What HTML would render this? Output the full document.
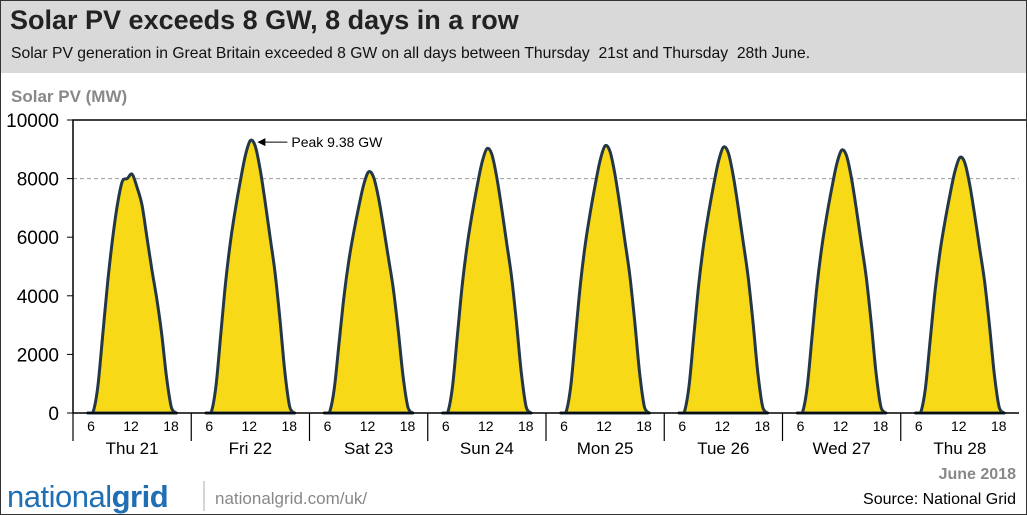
<!DOCTYPE html>
<html><head><meta charset="utf-8">
<style>
body{margin:0;background:#fff;font-family:"Liberation Sans",Arial,sans-serif;}
#wrap{position:relative;width:1025px;height:513px;border:1px solid #333;overflow:hidden;background:#fff;}
#hdr{position:absolute;left:0;top:0;width:1025px;height:72px;background:#d9d9d9;}
#title{position:absolute;left:9px;top:4px;font-size:27px;font-weight:bold;color:#222;}
#sub{position:absolute;left:10px;top:44px;font-size:15.7px;color:#111;}
svg{position:absolute;left:0;top:0;}
</style></head><body>
<div id="wrap">
<div id="hdr">
<div id="title">Solar PV exceeds 8 GW, 8 days in a row</div>
<div id="sub">Solar PV generation in Great Britain exceeded 8 GW on all days between Thursday &nbsp;21st and Thursday &nbsp;28th June.</div>
</div>
<svg id="chart" width="1027" height="515"></svg>
</div>
<script>
const days=["Thu 21","Fri 22","Sat 23","Sun 24","Mon 25","Tue 26","Wed 27","Thu 28"];
const hours=[3,4,5,6,7,8,9,10,11,12,13,14,15,16,17,18,19,20,21];
const d21=[0,0,850,2600,4400,5900,7100,7900,8000,8150,7700,7100,6000,4900,3900,2700,1200,170,0];
const d22=[0,0,900,2700,4500,5900,7000,7950,8800,9300,9100,8300,7200,6000,4800,3200,1400,200,0];
const d23=[0,0,800,2390,3980,5220,6190,7040,7790,8230,8050,7350,6370,5310,4250,2830,1240,180,0];
const d24=[0,0,870,2620,4370,5720,6790,7720,8540,9020,8830,8050,6990,5820,4660,3100,1360,190,0];
const d25=[0,0,880,2650,4420,5790,6860,7800,8630,9120,8920,8140,7070,5890,4710,3140,1370,190,0];
const d26=[0,0,880,2640,4390,5760,6830,7760,8580,9070,8880,8100,7030,5860,4680,3120,1360,190,0];
const d27=[0,0,870,2610,4340,5690,6750,7670,8490,8970,8780,8010,6950,5790,4630,3090,1350,190,0];
const d28=[0,0,840,2530,4220,5540,6560,7460,8250,8720,8540,7790,6760,5630,4510,3000,1310,180,0];
const series=[d21,d22,d23,d24,d25,d26,d27,d28];
const yTicks=[0,2000,4000,6000,8000,10000];
const hourTicks=[6,12,18];
const peakLabel="Peak 9.38 GW";
const peakDay=1, peakHour=12.2, peakVal=9380;

const NS="http://www.w3.org/2000/svg";
const svg=document.getElementById('chart');
const X0=72,X1=1018,Y0=412,Y1=119,DW=(X1-X0)/days.length;
const y=v=>Y0-(v/10000)*(Y0-Y1);
const x=(d,h)=>X0+d*DW+(h/24)*DW;
const tickX=(d,h)=>X0+d*DW+18+(h-6)*6.67;
function mk(t,a){const e=document.createElementNS(NS,t);for(const k in a)e.setAttribute(k,a[k]);svg.appendChild(e);return e;}

let e;
e=mk('text',{x:10,y:101,'font-size':17,'font-weight':'bold',fill:'#888'});e.textContent="Solar PV (MW)";



e=mk('line',{x1:X0,y1:y(8000),x2:X1,y2:y(8000),stroke:'#999','stroke-dasharray':'4,3'});



series.forEach((s,d)=>{
  const pts=hours.map((h,i)=>[x(d,h),y(s[i])]);
  let p=`M${pts[0][0]},${pts[0][1]}`;
  for(let i=0;i<pts.length-1;i++){
    const p0=pts[Math.max(0,i-1)],p1=pts[i],p2=pts[i+1],p3=pts[Math.min(pts.length-1,i+2)];
    const c1=[p1[0]+(p2[0]-p0[0])/6,p1[1]+(p2[1]-p0[1])/6];
    const c2=[p2[0]-(p3[0]-p1[0])/6,p2[1]-(p3[1]-p1[1])/6];
    p+=` C${c1[0]},${Math.min(Y0,c1[1])} ${c2[0]},${Math.min(Y0,c2[1])} ${p2[0]},${p2[1]}`;
  }
  e=mk('path',{d:p+' Z',fill:'#f7d917',stroke:'#243746','stroke-width':3,'stroke-linejoin':'round'});
  
  
});

e=mk('path',{d:`M${X0},${Y0} L${X0},${Y1} L${X1+8},${Y1} M${X0},${Y0} L${X1},${Y0}`,stroke:'#000','stroke-width':1.5,fill:'none'});



yTicks.forEach(v=>{
  e=mk('line',{x1:X0-6,y1:y(v),x2:X0,y2:y(v),stroke:'#000'});
  
  
  e=mk('text',{x:X0-14,y:y(v)+7,'font-size':19,'text-anchor':'end',fill:'#000'});e.textContent=v;
  
  
});

days.forEach((dn,d)=>{
  e=mk('line',{x1:X0+d*DW,y1:Y0,x2:X0+d*DW,y2:440,stroke:'#000','stroke-width':1.2});
  
  
  hourTicks.forEach(h=>{
    e=mk('text',{x:tickX(d,h),y:430,'font-size':14,'text-anchor':'middle'});e.textContent=h;
    
    
  });
  e=mk('text',{x:X0+d*DW+DW/2,y:453,'font-size':17,'text-anchor':'middle'});e.textContent=dn;
  
  
});

const px=x(peakDay,peakHour)+6,py=y(peakVal)+4;
e=mk('line',{x1:px+30,y1:py,x2:px+6,y2:py,stroke:'#000'});


e=mk('path',{d:`M${px},${py} L${px+8},${py-4} L${px+8},${py+4} Z`,fill:'#000'});


e=mk('text',{x:px+34,y:py+5,'font-size':14});e.textContent=peakLabel;



e=mk('text',{x:1015,y:478,'font-size':16,'font-weight':'bold','text-anchor':'end',fill:'#888'});e.textContent="June 2018";


e=mk('text',{x:1015,y:503,'font-size':16,'text-anchor':'end'});e.textContent="Source: National Grid";


e=mk('text',{x:6,y:506,'font-size':31,fill:'#1f6fb4','letter-spacing':'-0.5'});
e.innerHTML='national<tspan font-weight="bold">grid</tspan>';


e=mk('line',{x1:203,y1:480,x2:203,y2:510,stroke:'#aaa'});


e=mk('text',{x:214,y:503,'font-size':17,fill:'#888'});e.textContent="nationalgrid.com/uk/";


</script>
</body></html>
